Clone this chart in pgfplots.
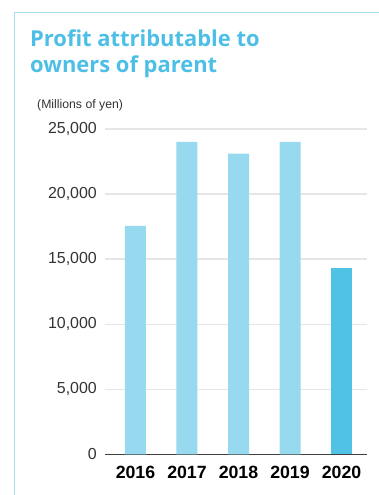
\documentclass[border=0pt]{standalone}
\usepackage{pgfplots}
\pgfplotsset{compat=1.18}
\usepackage{fontspec}
\setmainfont{Liberation Sans}
\newfontfamily\titlefont{Open Sans}
\definecolor{framec}{HTML}{A8DFF3}
\definecolor{titlec}{HTML}{4DBFE6}
\definecolor{lightbar}{HTML}{97DAF0}
\definecolor{darkbar}{HTML}{50C2E5}
\definecolor{gridc}{HTML}{E6E6E6}
\definecolor{tickc}{HTML}{333333}
\begin{document}
\begin{tikzpicture}
\path[use as bounding box] (0,0) rectangle (379bp,-495bp);
\draw[framec, line width=1.5bp] (14.5bp,-495bp) -- (14.5bp,-12.5bp) -- (379bp,-12.5bp);
\node[anchor=base west, inner sep=0, text=titlec, font=\titlefont\bfseries\fontsize{22}{26}\selectfont] at (30bp,-46bp) {Profit attributable to};
\node[anchor=base west, inner sep=0, text=titlec, font=\titlefont\bfseries\fontsize{22}{26}\selectfont] at (30bp,-72bp) {owners of parent};
\node[anchor=base west, inner sep=0, text=tickc, font=\fontsize{12.3}{14}\selectfont] at (37bp,-108bp) {(Millions of yen)};
\begin{axis}[
  at={(105bp,-454.3bp)}, anchor=south west,
  scale only axis, width=262bp, height=325.3bp,
  xmin=-0.592, xmax=4.495, ymin=0, ymax=25000,
  ybar, bar width=21bp, bar shift=0pt,
  xtick={0,1,2,3,4}, xticklabels={2016,2017,2018,2019,2020},
  ytick={0,5000,10000,15000,20000,25000},
  scaled y ticks=false,
  /pgf/number format/assume math mode=true,
  /pgf/number format/1000 sep={,},
  ymajorgrids, grid style={gridc, line width=1.3bp},
  axis lines*=left,
  y axis line style={draw=none},
  x axis line style={black!75, line width=1bp},
  major tick length=0pt,
  yticklabel style={anchor=east, inner sep=0pt, xshift=-8bp, text=tickc, font=\fontsize{16}{18}\selectfont},
  xticklabel style={anchor=north, inner sep=0pt, yshift=-12bp, text=black, font=\bfseries\fontsize{17.8}{20}\selectfont},
  clip=false,
]
\addplot[fill=lightbar, draw=none] coordinates {(0,17560) (1,24020) (2,23100) (3,24020)};
\addplot[fill=darkbar, draw=none] coordinates {(4,14330)};
\end{axis}
\end{tikzpicture}
\end{document}
